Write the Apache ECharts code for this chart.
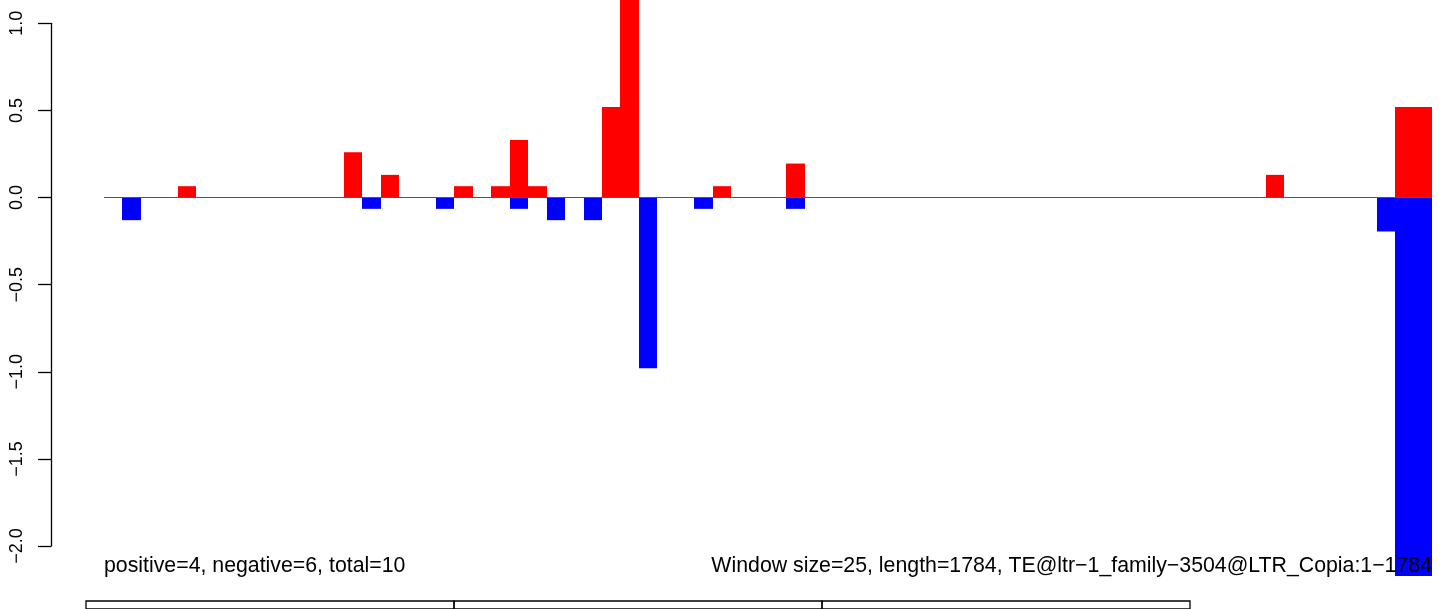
<!DOCTYPE html>
<html>
<head>
    <meta charset="utf-8">
    <script src="https://cdn.jsdelivr.net/npm/echarts@6/dist/echarts.min.js"></script>
</head>
<body style="margin:0;background:#fff;">
    <div id="main" style="width: 1444px;height:609px;"></div>
    <script type="text/javascript">
        // windows of 25 bp along the 1784 bp element (72 windows)
        var nWindows = 72;
        var posWindows = [4, 13, 15, 19, 21, 22, 23, 27, 28, 33, 37, 63, 70, 71];
        var posValues = [0.065, 0.26, 0.13, 0.065, 0.065, 0.33, 0.065, 0.52, 1.2, 0.065, 0.195, 0.13, 0.52, 0.52];
        var negWindows = [1, 14, 18, 22, 24, 26, 29, 32, 37, 69, 70, 71];
        var negValues = [-0.13, -0.065, -0.065, -0.065, -0.13, -0.13, -0.98, -0.065, -0.065, -0.195, -2.3, -2.3];
        var yTicks = [-2, -1.5, -1, -0.5, 0, 0.5, 1];
        var segments = [0, 1, 2];

        var leftNote = 'positive=4, negative=6, total=10';
        var rightNote = 'Window size=25, length=1784, TE@ltr\u22121_family\u22123504@LTR_Copia:1\u22121784';

        var font = "'Liberation Sans', Arial, Helvetica, sans-serif";
        var myChart = echarts.init(document.getElementById('main'));

        function pairs(idx, vals) {
            var res = [];
            for (var i = 0; i < idx.length; i++) res.push([idx[i], vals[i]]);
            return res;
        }

        function barItem(params, api) {
            var i = api.value(0), v = api.value(1);
            var p0 = api.coord([i, 0]);
            var p1 = api.coord([i + 1, v]);
            // snap x edges so neighbouring windows touch without a seam
            var x0 = Math.round(p0[0]), x1 = Math.round(p1[0]);
            var cs = params.coordSys;
            var rect = echarts.graphic.clipRectByRect({
                x: x0, y: Math.min(p0[1], p1[1]),
                width: x1 - x0, height: Math.abs(p1[1] - p0[1])
            }, { x: cs.x, y: cs.y, width: cs.width, height: cs.height });
            if (!rect) return;
            return { type: 'rect', shape: rect, style: { fill: api.visual('color') } };
        }

        function boxItem(params, api) {
            var i = api.value(0);
            var a = api.coord([i, 1]);
            var b = api.coord([i + 1, 0]);
            return {
                type: 'rect',
                shape: { x: a[0], y: a[1], width: b[0] - a[0], height: b[1] - a[1] },
                style: { fill: 'none', stroke: '#000', lineWidth: 1.3 }
            };
        }

        var option = {
            animation: false,
            backgroundColor: '#fff',
            grid: [
                // axis only (R draws the axis from first to last tick)
                { left: 51, top: 23.3, height: 522.7, width: 10 },
                // data region
                { left: 104, top: 0, height: 576, width: 1328 },
                // lower panel boxes
                { left: 86, top: 601, height: 30, width: 1104 }
            ],
            xAxis: [
                { gridIndex: 0, type: 'value', show: false, min: 0, max: 1 },
                { gridIndex: 1, type: 'value', show: false, min: 0, max: nWindows },
                { gridIndex: 2, type: 'value', show: false, min: 0, max: segments.length }
            ],
            yAxis: [
                {
                    gridIndex: 0, type: 'value', min: yTicks[0], max: yTicks[yTicks.length - 1], interval: 0.5,
                    splitLine: { show: false },
                    axisLine: { show: true, lineStyle: { color: '#000', width: 1.3 } },
                    axisTick: { show: true, length: 13, lineStyle: { color: '#000', width: 1.3 } },
                    axisLabel: {
                        rotate: 90, margin: 25, color: '#000', fontSize: 18, fontFamily: font,
                        formatter: function (v) { return v.toFixed(1).replace('-', '\u2212'); }
                    }
                },
                { gridIndex: 1, type: 'value', show: false, min: -2.173, max: 1.134 },
                { gridIndex: 2, type: 'value', show: false, min: 0, max: 1 }
            ],
            series: [
                {
                    type: 'custom', xAxisIndex: 1, yAxisIndex: 1,
                    renderItem: barItem, itemStyle: { color: '#ff0000' },
                    data: pairs(posWindows, posValues)
                },
                {
                    type: 'custom', xAxisIndex: 1, yAxisIndex: 1,
                    renderItem: barItem, itemStyle: { color: '#0000ff' },
                    data: pairs(negWindows, negValues)
                },
                {
                    type: 'line', xAxisIndex: 1, yAxisIndex: 1, symbol: 'none', z: 5,
                    lineStyle: { color: '#555', width: 1.2 },
                    data: [[0, 0], [nWindows, 0]]
                },
                {
                    type: 'custom', xAxisIndex: 2, yAxisIndex: 2, clip: false,
                    renderItem: boxItem,
                    data: segments.map(function (s) { return [s]; })
                }
            ],
            graphic: [
                {
                    type: 'text', x: 104, y: 556, z: 100,
                    style: { text: leftNote, fill: '#000', font: '21.3px ' + font, textAlign: 'left' }
                },
                {
                    type: 'text', x: 1432, y: 556, z: 100,
                    style: { text: rightNote, fill: '#000', font: '21.3px ' + font, textAlign: 'right' }
                }
            ]
        };

        myChart.setOption(option);
    </script>
</body>
</html>
